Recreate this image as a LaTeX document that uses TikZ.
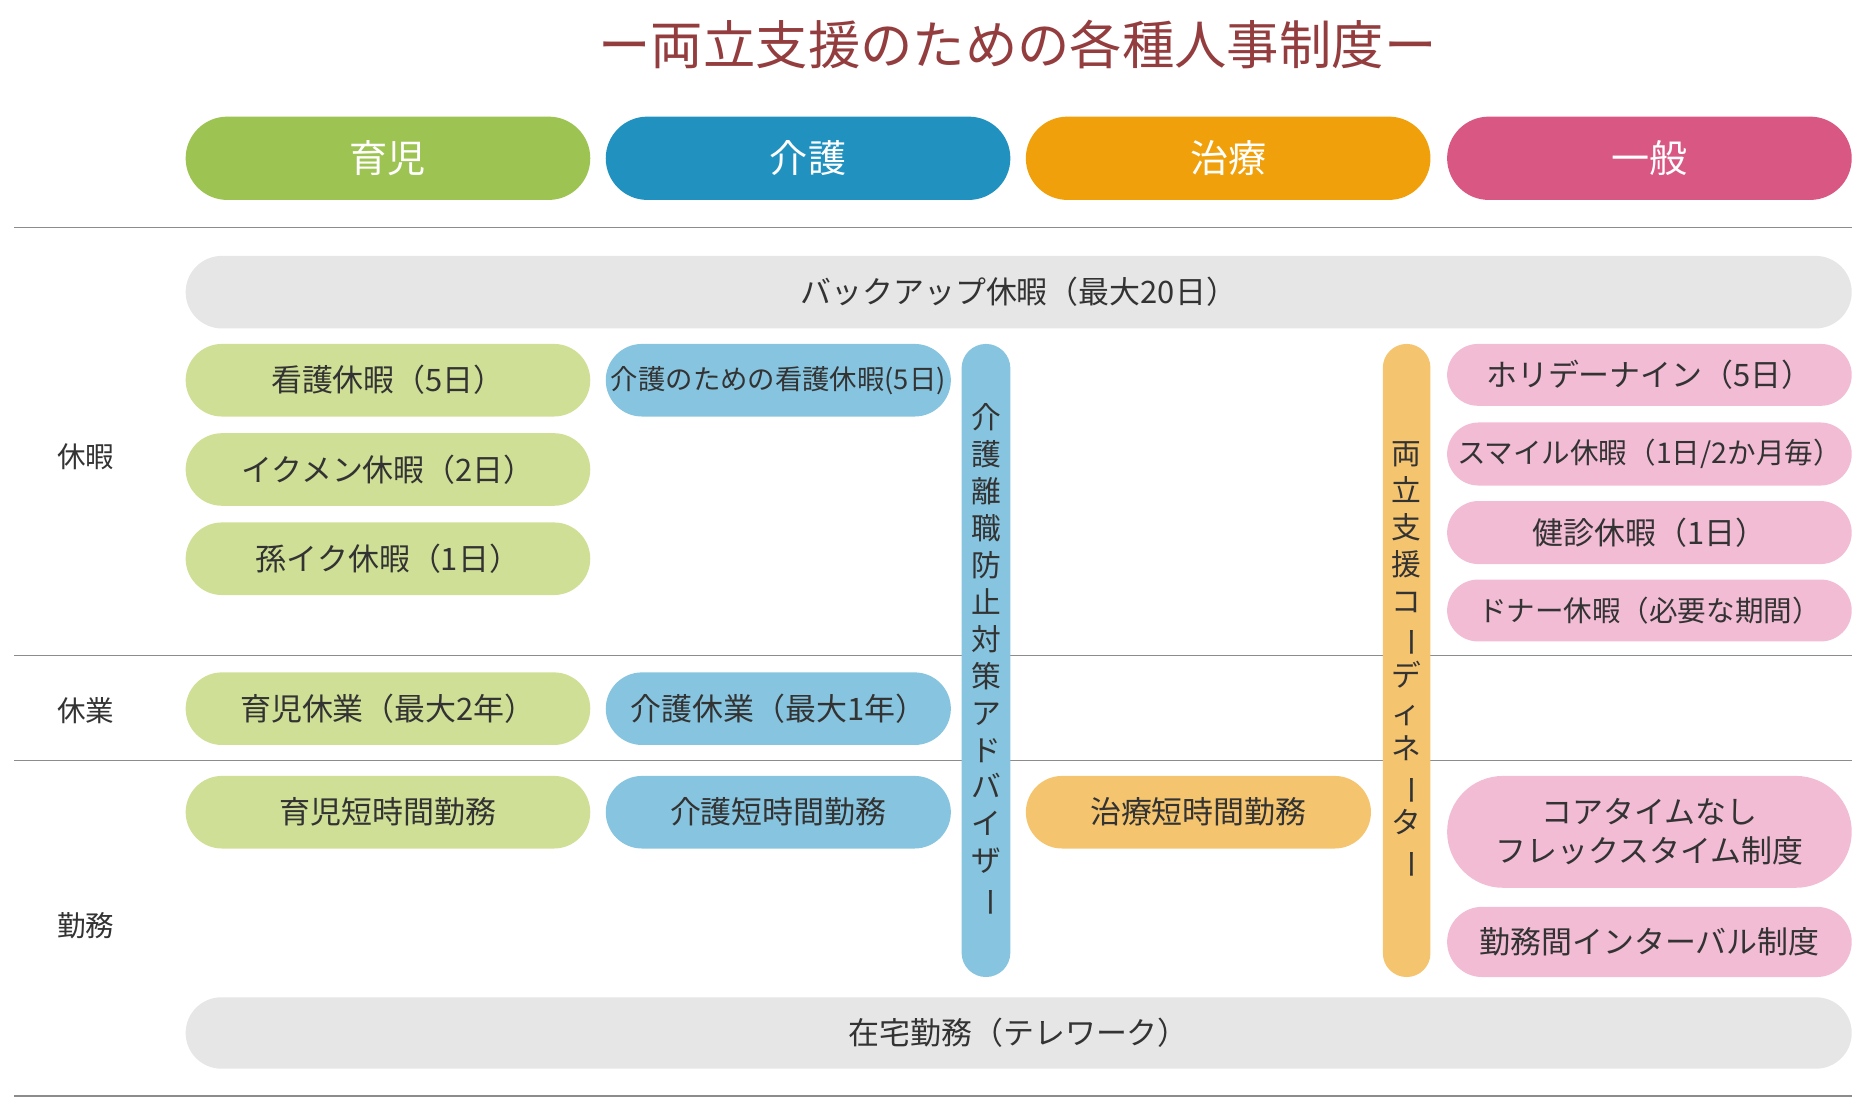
\documentclass[tikz,border=0pt]{standalone}
\usepackage{fontspec}
\setmainfont{Noto Sans CJK JP}
\usepackage{graphicx}
\definecolor{ttl}{HTML}{933D3F}
\definecolor{hg}{HTML}{9DC352}\definecolor{hb}{HTML}{2192C0}
\definecolor{ho}{HTML}{F0A00A}\definecolor{hp}{HTML}{D95883}
\definecolor{lg}{HTML}{CFDF96}\definecolor{lb}{HTML}{86C4DF}
\definecolor{lo}{HTML}{F5C46E}\definecolor{lp}{HTML}{F2BCD4}
\definecolor{gy}{HTML}{E6E6E6}\definecolor{tx}{HTML}{333333}
\definecolor{ln}{HTML}{8C8C8C}
\newcommand{\vbar}{\rotatebox[origin=c]{-90}{ー}}
\tikzset{
 box/.style={inner sep=0pt, text=tx, font=\fontsize{26}{30}\selectfont, align=center},
 hdr/.style={box, text=white, font=\fontsize{32}{36}\selectfont},
 sep/.style={draw=ln, line width=1.2pt},
 side/.style={text=tx, font=\fontsize{24}{28}\selectfont}
}
% \pill{name}{x1}{y1}{x2}{y2}{color}{style}{text}
\newcommand{\pill}[8]{%
 \pgfmathsetmacro{\rr}{min(#4-#2,#5-#3)/2-0.01}%
 \fill[#6, rounded corners=\rr pt] (#2pt,-#3pt) rectangle (#4pt,-#5pt);
 \node[#7] (#1) at ({(#2+#4)/2*1pt},{-(#3+#5)/2*1pt}) {#8};}
\begin{document}
\begin{tikzpicture}[x=1pt,y=1pt]
\useasboundingbox (0,0) rectangle (1568,-934);
\node[text=ttl, font=\fontsize{44}{48}\selectfont] (title) at (855,-37) {ー両立支援のための各種人事制度ー};
\pill{h1}{156}{98}{496}{168}{hg}{hdr}{育児}
\pill{h2}{509}{98}{849}{168}{hb}{hdr}{介護}
\pill{h3}{862}{98}{1202}{168}{ho}{hdr}{治療}
\pill{h4}{1216}{98}{1556}{168}{hp}{hdr}{一般}
\draw[sep] (12,-191) -- (1556,-191);
\draw[sep] (12,-551) -- (1556,-551);
\draw[sep] (12,-639) -- (1556,-639);
\draw[sep] (12,-921) -- (1556,-921);
\node[side] (s1) at (72,-384) {休暇};
\node[side] (s2) at (72,-597) {休業};
\node[side] (s3) at (72,-778) {勤務};
\pill{bk}{156}{215}{1556}{276}{gy}{box}{バックアップ休暇（最大20日）}
\pill{g1}{156}{289}{496}{350}{lg}{box}{看護休暇（5日）}
\pill{g2}{156}{364}{496}{425}{lg}{box}{イクメン休暇（2日）}
\pill{g3}{156}{439}{496}{500}{lg}{box}{孫イク休暇（1日）}
\pill{g4}{156}{565}{496}{626}{lg}{box}{育児休業（最大2年）}
\pill{g5}{156}{652}{496}{713}{lg}{box}{育児短時間勤務}
\pill{b1}{509}{289}{799}{350}{lb}{box,font=\fontsize{23}{26}\selectfont}{介護のための看護休暇(5日)}
\pill{b2}{509}{565}{799}{626}{lb}{box}{介護休業（最大1年）}
\pill{b3}{509}{652}{799}{713}{lb}{box}{介護短時間勤務}
\pill{bv}{808}{289}{849}{821}{lb}{box,font=\fontsize{25}{31}\selectfont}{介\\護\\離\\職\\防\\止\\対\\策\\ア\\ド\\バ\\イ\\ザ\\\vbar}
\pill{o1}{862}{652}{1152}{713}{lo}{box}{治療短時間勤務}
\pill{ov}{1162}{289}{1202}{821}{lo}{box,font=\fontsize{25}{31}\selectfont}{両\\立\\支\\援\\コ\\\vbar\\デ\\ィ\\ネ\\\vbar\\タ\\\vbar}
\pill{p1}{1216}{289}{1556}{341}{lp}{box}{ホリデーナイン（5日）}
\pill{p2}{1216}{355}{1556}{408}{lp}{box,font=\fontsize{24}{28}\selectfont}{スマイル休暇（1日/2か月毎）}
\pill{p3}{1216}{421}{1556}{474}{lp}{box}{健診休暇（1日）}
\pill{p4}{1216}{487}{1556}{539}{lp}{box,font=\fontsize{24}{28}\selectfont}{ドナー休暇（必要な期間）}
\pill{p5}{1216}{652}{1556}{746}{lp}{box,font=\fontsize{26}{33}\selectfont}{コアタイムなし\\フレックスタイム制度}
\pill{p6}{1216}{762}{1556}{821}{lp}{box}{勤務間インターバル制度}
\pill{wk}{156}{838}{1556}{898}{gy}{box}{在宅勤務（テレワーク）}
\end{tikzpicture}
\end{document}
